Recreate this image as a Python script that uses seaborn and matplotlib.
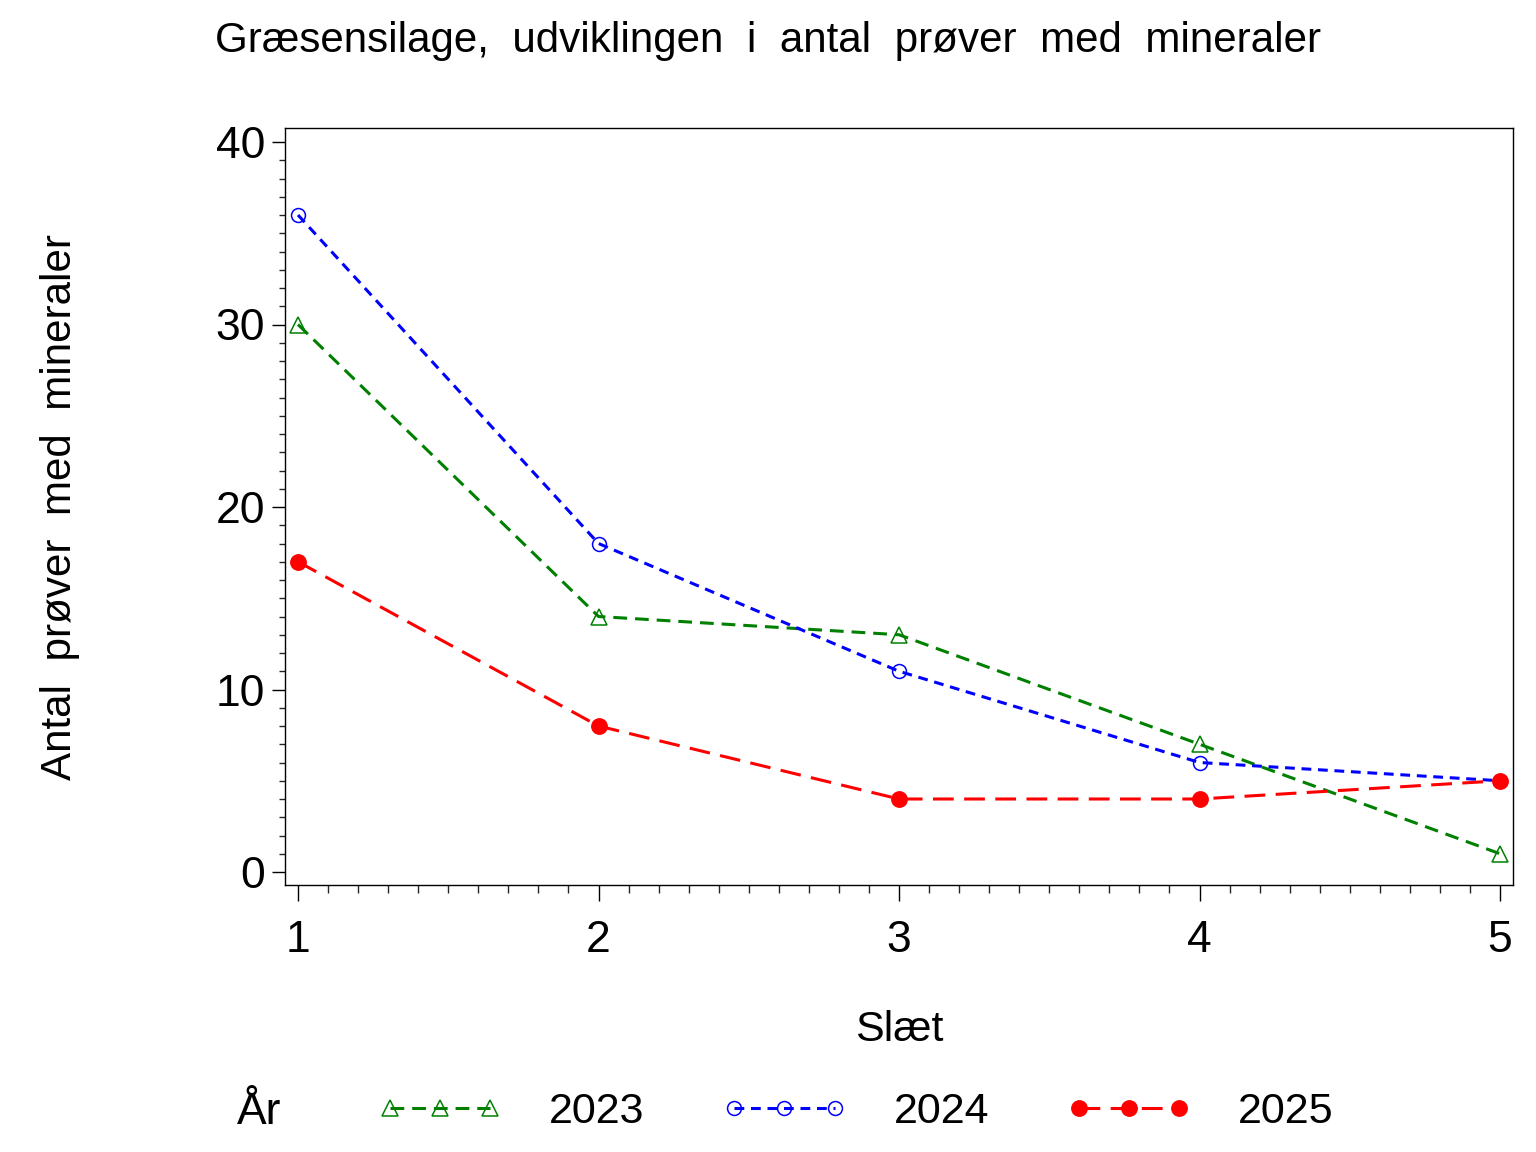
import matplotlib
matplotlib.use("Agg")
import matplotlib.pyplot as plt
import seaborn as sns
import pandas as pd
from matplotlib.ticker import MultipleLocator

sns.set_theme(style="white")
plt.rcParams['font.family'] = ['Liberation Sans', 'DejaVu Sans']
plt.rcParams['text.color'] = 'black'
plt.rcParams['axes.labelcolor'] = 'black'

slaet = [1, 2, 3, 4, 5]
y2023 = [30, 14, 13, 7, 1]
y2024 = [36, 18, 11, 6, 5]
y2025 = [17, 8, 4, 4, 5]
years = ["2023", "2024", "2025"]

title = "Græsensilage,  udviklingen  i  antal  prøver  med  mineraler"
xlabel = "Slæt"
ylabel = "Antal  prøver  med  mineraler"
legend_title = "År"

fig = plt.figure(figsize=(15.36, 11.52), dpi=100)
ax = fig.add_axes([285/1536, 1-885/1152, (1513-285)/1536, (885-128)/1152])

styles = {
    "2023": dict(color="#008000", marker="^", mfc="none", mec="#008000", ms=11.5,
                 ls=(0, (4.5, 2.6))),
    "2024": dict(color="#0000FF", marker="o", mfc="none", mec="#0000FF", ms=10,
                 ls=(0, (3.2, 2.2))),
    "2025": dict(color="#FF0000", marker="o", mfc="#FF0000", mec="#FF0000", ms=11,
                 ls=(0, (6.8, 3.4))),
}

for yr, vals in zip(years, [y2023, y2024, y2025]):
    df = pd.DataFrame({"Slæt": slaet, "n": vals})
    st = styles[yr]
    sns.lineplot(data=df, x="Slæt", y="n", ax=ax, color=st["color"],
                 marker=st["marker"], markerfacecolor=st["mfc"],
                 markeredgecolor=st["mec"], markersize=st["ms"],
                 markeredgewidth=1.1, linewidth=2.2, linestyle=st["ls"],
                 label=yr)

ax.set_xlim(1 - 13/300.5, 5 + 13/300.5)
ax.set_ylim(-13/18.25, 40 + 14/18.25)
ax.xaxis.set_major_locator(MultipleLocator(1))
ax.xaxis.set_minor_locator(MultipleLocator(0.1))
ax.yaxis.set_major_locator(MultipleLocator(10))
ax.yaxis.set_minor_locator(MultipleLocator(1))

for sp in ax.spines.values():
    sp.set_visible(True)
    sp.set_color("black")
    sp.set_linewidth(1.0)

ax.tick_params(axis="x", which="major", direction="out", length=11.5, width=1.0,
               pad=14, labelsize=32, colors="black", bottom=True)
ax.tick_params(axis="x", which="minor", direction="out", length=5.8, width=1.0,
               bottom=True)
ax.tick_params(axis="y", which="major", direction="out", length=9.4, width=1.0,
               pad=5, labelsize=32, colors="black", left=True)
ax.tick_params(axis="y", which="minor", direction="out", length=4.3, width=1.0,
               left=True)

ax.set_xlabel(xlabel, fontsize=31, color="black")
ax.set_ylabel(ylabel, fontsize=30.3, color="black")
ax.xaxis.set_label_coords(0.5, (885 - 1010) / 757)
ax.yaxis.set_label_coords((80 - 285) / 1228, 0.5)

fig.text(0.5, 1 - 52/1152, title, ha="center", va="baseline", fontsize=30.3,
         color="black")

ax.get_legend().remove()
handles, labels = ax.get_legend_handles_labels()
leg = fig.legend(handles, labels, loc="center left",
                 bbox_to_anchor=(377/1536, 1 - 1112/1152), ncol=3, frameon=False,
                 fontsize=31, numpoints=3, handlelength=2.93, handletextpad=1.07,
                 columnspacing=1.78, borderpad=0, borderaxespad=0)
for t in leg.get_texts():
    t.set_color("black")
fig.text(237/1536, 1 - 1112/1152, legend_title, ha="left", va="center",
         fontsize=32, color="black")

fig.savefig("out.png", dpi=100, facecolor="white")
